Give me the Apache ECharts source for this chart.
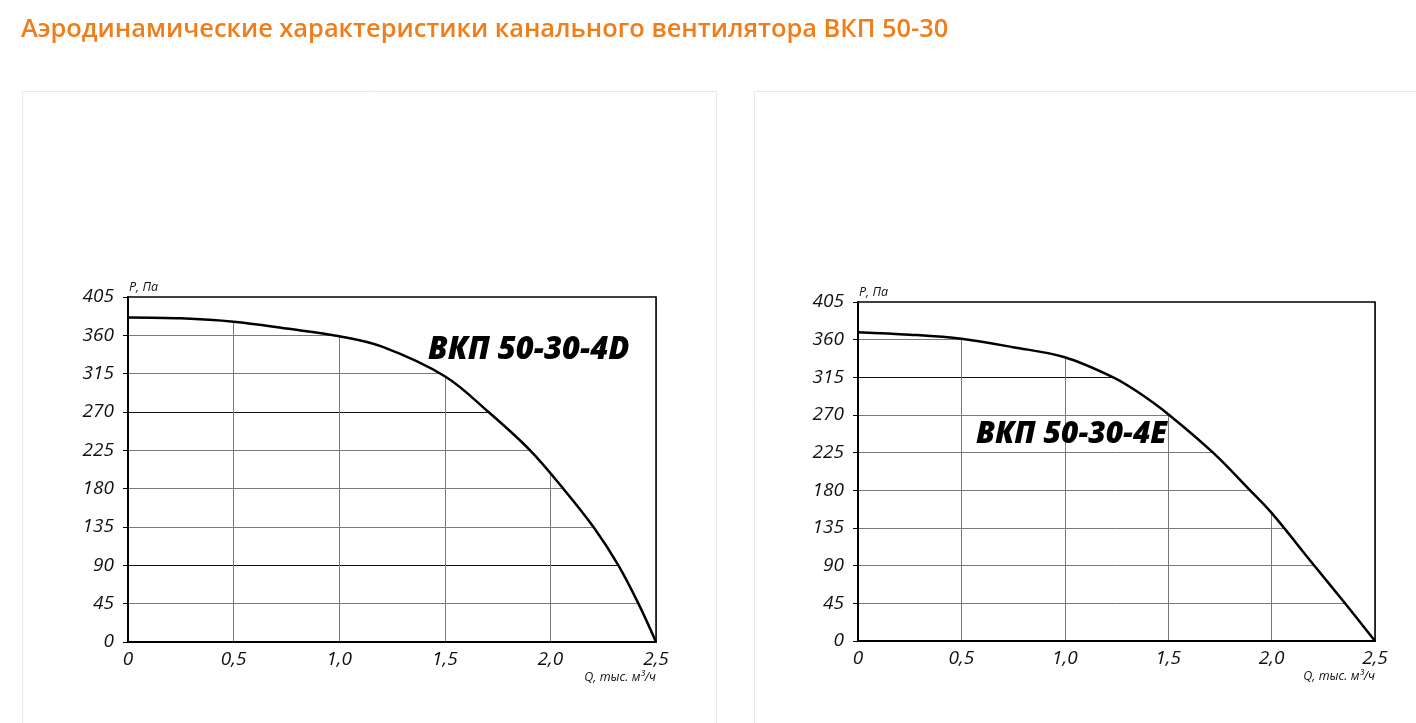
<!DOCTYPE html>
<html>
<head>
<meta charset="utf-8">
<script src="https://cdn.jsdelivr.net/npm/echarts@6/dist/echarts.min.js"></script>
<style>
html,body{margin:0;padding:0;background:#fff;}
#chart{width:1416px;height:723px;}
</style>
</head>
<body>
<div id="chart"></div>
<script>
const pageTitle = 'Аэродинамические характеристики канального вентилятора ВКП 50-30';
const modelNames = ['ВКП 50-30-4D', 'ВКП 50-30-4E'];
const yAxisName = 'P, Па';
const xAxisName = 'Q, тыс. м³/ч';

// Q (thousand m3/h) and P (Pa) for the 4D model
const q4D = [0, 0.25, 0.5, 0.75, 1.0, 1.2, 1.5, 1.707, 1.904, 2.061, 2.204, 2.322, 2.417, 2.5];
const p4D = [381, 380, 376, 368, 359, 347, 312, 270, 225, 180, 135, 90, 45, 0];
// Q and P for the 4E model
const q4E = [0, 0.25, 0.5, 0.75, 1.0, 1.234, 1.35, 1.5, 1.717, 1.896, 2.0, 2.2, 2.355, 2.5];
const p4E = [369, 366, 361, 351, 339, 315, 298, 271, 225, 180, 153, 92, 45, 0];

const yMin = 0, yMax = 405, yStep = 45;
const xMin = 0, xMax = 2.5, xStep = 0.5;

const chart = echarts.init(document.getElementById('chart'));

const tickFont = { fontFamily: 'Open Sans', fontStyle: 'italic', fontSize: 19, color: '#111' };
const grey = '#7a7a7a', dark = '#111';
const splitColors = [
  [grey, grey, dark, grey],
  [grey, grey, grey, grey, grey, grey, grey, dark, grey, grey]
];
const grids = [
  { left: 128, top: 297, width: 528, height: 345 },
  { left: 858, top: 302, width: 517, height: 339 }
];

function zip(q, p) { return q.map((v, i) => [v, p[i]]); }
const xFmt = v => v === 0 ? '0' : v.toFixed(1).replace('.', ',');

const xAxes = [], yAxes = [], series = [];
grids.forEach((g, gi) => {
  // split-line axes (below the white mask)
  xAxes.push({ gridIndex: gi, type: 'value', min: xMin, max: xMax, interval: xStep, position: 'top', z: 0,
    axisLine: { show: false }, axisTick: { show: false }, axisLabel: { show: false },
    splitLine: { show: true, lineStyle: { color: grey, width: 1 } } });
  yAxes.push({ gridIndex: gi, type: 'value', min: yMin, max: yMax, interval: yStep, position: 'right', z: 0,
    axisLine: { show: false }, axisTick: { show: false }, axisLabel: { show: false },
    splitLine: { show: true, lineStyle: { color: splitColors[gi], width: 1 } } });
  // label axes (above the mask)
  xAxes.push({ gridIndex: gi, type: 'value', min: xMin, max: xMax, interval: xStep, position: 'bottom', z: 10,
    axisLine: { show: true, onZero: false, lineStyle: { color: '#000', width: 2 } },
    axisTick: { show: false }, splitLine: { show: false },
    axisLabel: Object.assign({ margin: 8, formatter: xFmt, showMinLabel: true, showMaxLabel: true }, tickFont),
    name: xAxisName, nameLocation: 'end', nameGap: 0,
    nameTextStyle: { fontFamily: 'Open Sans', fontStyle: 'italic', fontSize: 12.5, color: '#111',
      align: 'right', verticalAlign: 'top', padding: [29, 0, 0, 0] } });
  yAxes.push({ gridIndex: gi, type: 'value', min: yMin, max: yMax, interval: yStep, position: 'left', z: 10,
    axisLine: { show: true, onZero: false, lineStyle: { color: '#000', width: 2 } },
    axisTick: { show: true, length: 5, lineStyle: { color: '#000', width: 1 } }, splitLine: { show: false },
    axisLabel: Object.assign({ margin: 14, showMinLabel: true, showMaxLabel: true }, tickFont),
    name: yAxisName, nameLocation: 'end', nameGap: 3,
    nameTextStyle: { fontFamily: 'Open Sans', fontStyle: 'italic', fontSize: 12.5, color: '#111',
      align: 'left', verticalAlign: 'bottom', padding: [0, 0, 0, 1] } });
});

[[q4D, p4D], [q4E, p4E]].forEach((d, gi) => {
  series.push({
    type: 'line', xAxisIndex: gi * 2 + 1, yAxisIndex: gi * 2 + 1,
    data: zip(d[0], d[1]), smooth: 0.35, symbol: 'none', z: 2,
    lineStyle: { color: '#000', width: 2.5 },
    areaStyle: { color: '#fff', opacity: 1, origin: 'end' }
  });
});

chart.setOption({
  backgroundColor: '#fff',
  animation: false,
  title: {
    text: pageTitle, left: 21, top: 17, padding: 0,
    textStyle: { color: '#f07d19', fontFamily: 'Open Sans', fontWeight: 600, fontSize: 25.4 }
  },
  grid: grids.map(g => Object.assign({ show: true, z: 10, borderColor: '#000', borderWidth: 1.5,
    backgroundColor: 'transparent', containLabel: false }, g)),
  xAxis: xAxes,
  yAxis: yAxes,
  series: series,
  graphic: [
    { type: 'rect', z: -10, shape: { x: 22.5, y: 91.5, width: 694, height: 700 },
      style: { fill: 'none', stroke: '#e9e9e9', lineWidth: 1 }, silent: true },
    { type: 'rect', z: -10, shape: { x: 754.5, y: 91.5, width: 700, height: 700 },
      style: { fill: 'none', stroke: '#e9e9e9', lineWidth: 1 }, silent: true },
    { type: 'text', z: 20, left: 428, top: 335,
      style: { text: modelNames[0], fontFamily: 'Open Sans', fontStyle: 'italic', fontWeight: 800, fontSize: 31, fill: '#000' } },
    { type: 'text', z: 20, left: 976, top: 419,
      style: { text: modelNames[1], fontFamily: 'Open Sans', fontStyle: 'italic', fontWeight: 800, fontSize: 30, fill: '#000' } }
  ]
});
</script>
</body>
</html>
